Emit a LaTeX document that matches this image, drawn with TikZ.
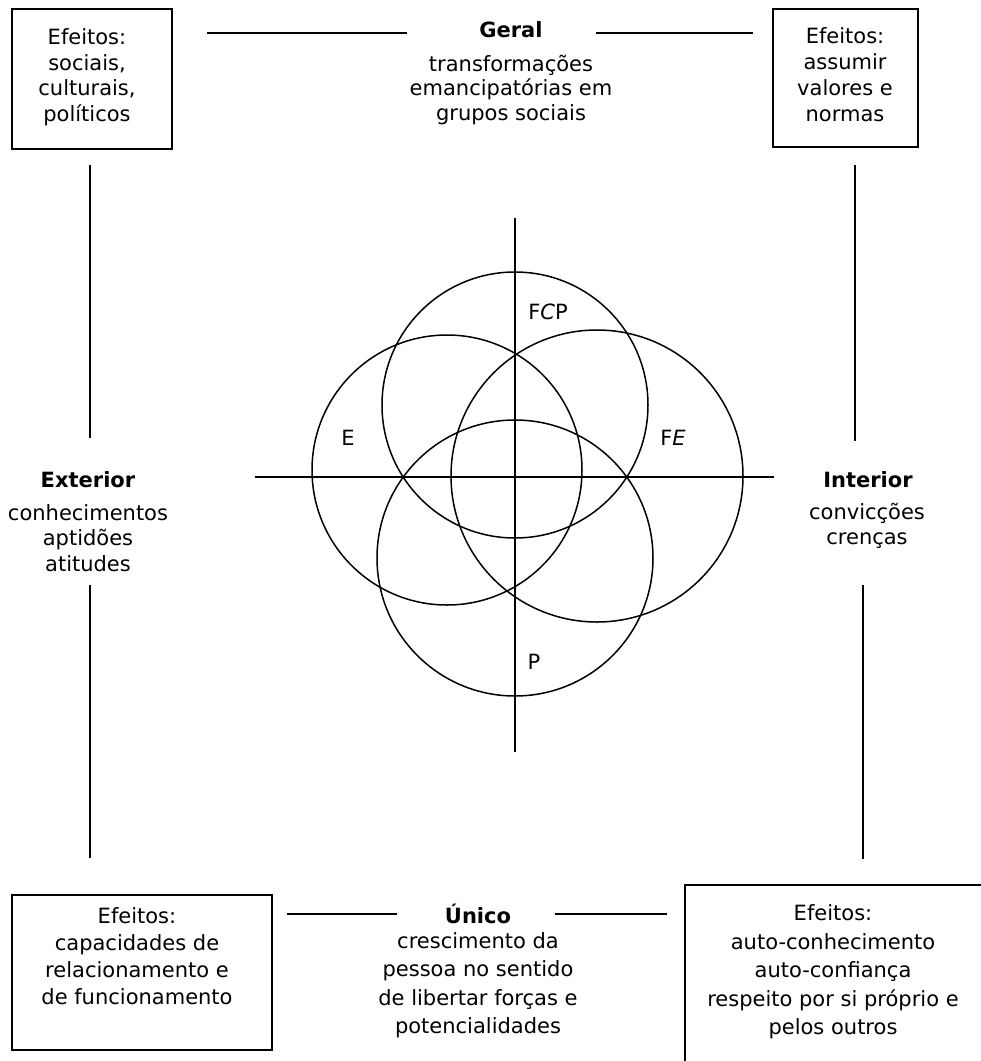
\documentclass[tikz,border=0pt]{standalone}
\usepackage{fontspec}
\setmainfont{DejaVu Sans}
\begin{document}
\begin{tikzpicture}[x=1pt,y=-1pt,
  txt/.style={align=center, inner sep=0pt, font=\fontsize{21}{25.5}\selectfont},
  txtwide/.style={align=center, inner sep=0pt, font=\fontsize{21}{28.5}\selectfont},
  ttl/.style={inner sep=0pt, font=\fontsize{21}{25.5}\selectfont\bfseries},
  lbl/.style={inner sep=0pt, font=\fontsize{21}{25.5}\selectfont},
  frame/.style={draw, line width=2pt},
  rule/.style={line width=2pt},
  axis/.style={line width=2.5pt},
  ring/.style={line width=1.5pt}]
\useasboundingbox (0,0) rectangle (981,1061);
\clip (0,0) rectangle (981,1061);

% corner boxes
\draw[frame] (12,9) rectangle (172,149);
\draw[frame] (773,9) rectangle (918,147);
\draw[frame] (12,895) rectangle (272,1050);
\draw[frame] (685,885) rectangle (990,1070);

\node[txt] (tltext) at (87,77) {Efeitos:\\sociais,\\culturais,\\políticos};
\node[txt, font=\fontsize{21}{26}\selectfont] (trtext) at (845,75) {Efeitos:\\assumir\\valores e\\normas};
\node[txt, font=\fontsize{21}{27}\selectfont] (bltext) at (137,956) {Efeitos:\\capacidades de\\relacionamento e\\de funcionamento};
\node[txtwide] (brtext) at (833,972) {Efeitos:\\auto-conhecimento\\auto-confiança\\respeito por si próprio e\\pelos outros};

% pole labels
\node[ttl] (geral) at (511,30) {Geral};
\node[txt, font=\fontsize{21}{24.5}\selectfont] (geraltxt) at (511,90) {transformações\\emancipatórias em\\grupos sociais};
\node[ttl] (ext) at (88,480) {Exterior};
\node[txt] (exttxt) at (88,538) {conhecimentos\\aptidões\\atitudes};
\node[ttl] (int) at (868,480) {Interior};
\node[txt] (inttxt) at (867,526) {convicções\\crenças};
\node[ttl] (unico) at (478,914) {Único};
\node[txtwide] (unicotxt) at (478,985) {crescimento da\\pessoa no sentido\\de libertar forças e\\potencialidades};

% connecting rules
\coordinate (t1) at (207,33); \coordinate (t2) at (407,33);
\coordinate (t3) at (596,33); \coordinate (t4) at (753,33);
\coordinate (b1) at (287,914); \coordinate (b2) at (397,914);
\coordinate (b3) at (555,914); \coordinate (b4) at (667,914);
\coordinate (l1) at (90,165); \coordinate (l2) at (90,438);
\coordinate (l3) at (90,585); \coordinate (l4) at (90,858);
\coordinate (r1) at (855,165); \coordinate (r2) at (855,441);
\coordinate (r3) at (863,585); \coordinate (r4) at (863,859);
\draw[rule] (t1) -- (t2);
\draw[rule] (t3) -- (t4);
\draw[rule] (b1) -- (b2);
\draw[rule] (b3) -- (b4);
\draw[rule] (l1) -- (l2);
\draw[rule] (l3) -- (l4);
\draw[rule] (r1) -- (r2);
\draw[rule] (r3) -- (r4);

% axes
\coordinate (axW) at (255,477); \coordinate (axE) at (774,477);
\coordinate (axN) at (515,218); \coordinate (axS) at (515,752);
\draw[axis] (axW) -- (axE);
\draw[axis] (axN) -- (axS);

% overlapping circles
\coordinate (cA) at (515,405);
\coordinate (cB) at (447,470);
\coordinate (cC) at (597,476);
\coordinate (cD) at (515,558);
\draw[ring] (cA) circle[radius=133pt];
\draw[ring] (cB) circle[radius=135pt];
\draw[ring] (cC) circle[radius=146pt];
\draw[ring] (cD) circle[radius=138pt];

\node[lbl] (fcp) at (548,312) {F\textit{C}P};
\node[lbl] (e) at (348,438) {E};
\node[lbl] (fe) at (673,438) {F\textit{E}};
\node[lbl] (p) at (534,662) {P};
\end{tikzpicture}
\end{document}
